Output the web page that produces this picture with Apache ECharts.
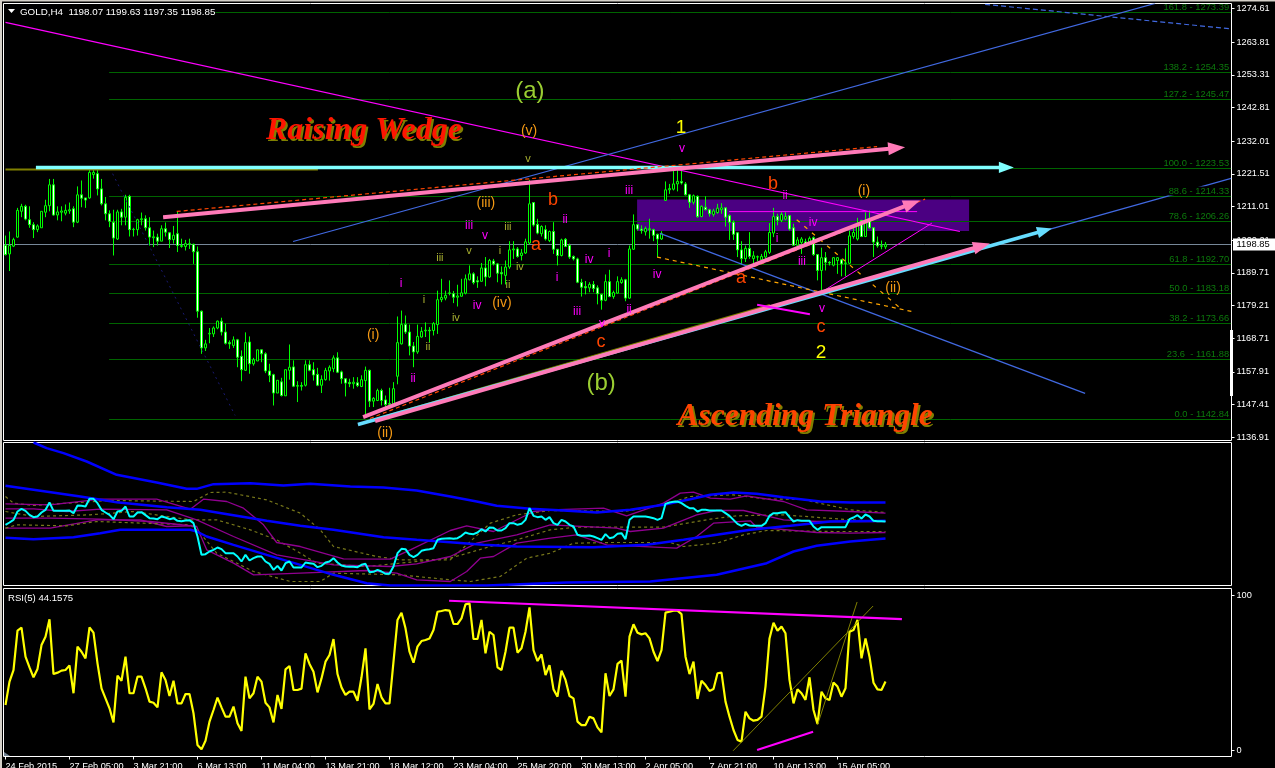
<!DOCTYPE html>
<html><head><meta charset="utf-8">
<style>html,body{margin:0;padding:0;background:#000;overflow:hidden}#c{width:1275px;height:768px}</style>
<script src="https://cdn.jsdelivr.net/npm/echarts@6/dist/echarts.min.js"></script>
</head><body><div id="c"></div>
<script>
// [open, close, low, high]
const candles = [
[1198.5,1195.6,1195.3,1201.7],[1195.8,1198.5,1190.3,1203.0],[1198.3,1200.4,1198.0,1201.0],[1201.2,1209.8,1201.0,1210.6],[1209.5,1211.1,1207.6,1211.9],[1211.1,1207.0,1206.6,1211.6],[1206.8,1205.2,1204.2,1211.1],[1205.2,1203.6,1200.9,1206.0],[1203.6,1204.8,1202.8,1205.3],[1204.2,1209.5,1204.2,1209.5],
[1209.2,1211.3,1207.6,1213.2],[1211.3,1218.0,1209.5,1219.9],[1218.0,1208.3,1208.1,1219.9],[1208.3,1209.3,1206.6,1211.1],[1209.2,1209.6,1206.3,1211.1],[1208.9,1209.8,1208.2,1211.7],[1209.6,1210.0,1208.7,1212.3],[1210.3,1206.0,1204.4,1211.1],[1206.0,1214.8,1205.7,1217.5],[1214.8,1213.7,1210.8,1219.4],
[1213.8,1213.1,1210.6,1213.8],[1213.8,1222.0,1213.5,1223.2],[1221.3,1222.0,1220.0,1223.2],[1221.6,1216.7,1214.6,1222.8],[1216.7,1211.9,1211.4,1219.9],[1211.9,1208.7,1206.6,1214.1],[1208.7,1206.3,1204.4,1209.8],[1206.0,1200.9,1195.3,1210.0],[1200.6,1209.3,1200.3,1210.0],[1209.3,1207.6,1205.0,1210.3],
[1207.6,1214.0,1205.0,1214.8],[1214.3,1203.6,1201.4,1214.8],[1203.6,1203.7,1201.4,1204.2],[1203.6,1206.8,1201.7,1207.1],[1206.8,1207.1,1205.0,1209.1],[1207.1,1204.2,1203.3,1208.2],[1204.2,1201.2,1198.5,1207.6],[1201.0,1201.3,1198.0,1203.3],[1201.2,1199.9,1198.5,1202.3],[1199.9,1203.9,1199.9,1205.0],
[1203.9,1202.8,1201.4,1205.9],[1202.6,1200.4,1197.7,1202.8],[1200.4,1201.8,1199.1,1204.8],[1202.3,1198.5,1196.4,1209.4],[1198.2,1198.5,1197.8,1200.7],[1198.2,1199.1,1196.9,1200.3],[1198.9,1199.1,1197.4,1200.7],[1198.9,1196.5,1192.6,1199.1],[1196.5,1177.4,1175.3,1198.2],[1177.4,1165.6,1163.7,1177.6],
[1165.6,1166.9,1164.6,1168.2],[1170.1,1170.3,1167.1,1172.0],[1170.1,1172.0,1169.1,1172.5],[1172.0,1174.2,1171.6,1174.4],[1174.2,1170.7,1169.6,1175.3],[1170.7,1167.1,1166.7,1173.4],[1167.3,1166.9,1165.3,1168.0],[1166.4,1168.2,1165.6,1169.3],[1168.2,1162.6,1159.4,1168.5],[1162.9,1158.6,1154.9,1164.8],
[1158.4,1167.3,1158.2,1170.6],[1167.5,1160.5,1157.3,1169.3],[1160.5,1161.8,1159.9,1162.4],[1161.4,1165.0,1161.4,1165.0],[1165.0,1163.7,1161.0,1165.0],[1163.7,1158.2,1157.5,1164.2],[1158.2,1156.8,1154.6,1160.5],[1157.0,1151.1,1147.1,1157.3],[1151.1,1155.2,1151.1,1155.2],[1154.7,1150.3,1150.0,1156.0],
[1150.2,1158.6,1150.2,1158.6],[1158.4,1159.4,1155.4,1166.7],[1159.5,1153.3,1153.0,1161.6],[1153.3,1153.5,1148.2,1154.9],[1153.5,1153.3,1151.9,1154.6],[1153.6,1160.2,1153.2,1161.6],[1160.2,1158.4,1158.1,1161.6],[1158.6,1156.9,1155.1,1161.0],[1157.1,1153.6,1153.3,1159.2],[1153.6,1155.5,1151.1,1156.8],
[1155.4,1158.4,1155.1,1159.2],[1158.2,1159.4,1155.1,1160.0],[1158.9,1162.4,1157.8,1163.2],[1162.4,1157.8,1157.5,1164.2],[1157.9,1155.7,1154.1,1158.3],[1155.7,1154.3,1150.0,1155.9],[1154.5,1154.1,1153.0,1155.7],[1154.1,1154.6,1152.5,1156.2],[1154.4,1153.5,1153.0,1156.2],[1153.2,1155.4,1153.0,1156.8],
[1155.1,1158.4,1143.9,1159.6],[1158.4,1148.5,1146.6,1158.6],[1148.5,1149.4,1146.6,1149.8],[1148.7,1151.9,1148.5,1152.5],[1151.9,1148.7,1147.1,1152.5],[1148.9,1147.4,1146.6,1150.3],[1147.7,1147.5,1146.0,1152.8],[1147.4,1152.5,1147.1,1154.6],[1156.5,1167.3,1153.9,1175.7],[1166.9,1173.1,1166.7,1177.6],
[1173.1,1170.7,1170.1,1176.0],[1170.7,1166.2,1163.2,1173.1],[1166.2,1164.3,1159.4,1167.5],[1164.3,1169.3,1163.7,1173.1],[1169.1,1170.9,1168.9,1172.3],[1171.1,1171.3,1169.1,1173.8],[1171.3,1171.1,1167.5,1172.3],[1171.2,1173.4,1169.6,1173.9],[1173.1,1181.1,1170.1,1184.0],[1181.1,1181.8,1180.3,1187.8],
[1181.6,1182.5,1180.9,1184.0],[1183.1,1183.3,1182.5,1187.3],[1183.0,1181.9,1180.0,1183.9],[1181.9,1182.3,1178.9,1185.9],[1182.2,1183.3,1182.2,1187.8],[1183.2,1187.8,1182.8,1189.2],[1187.5,1189.4,1187.3,1192.1],[1189.4,1186.6,1186.0,1189.9],[1187.2,1186.8,1184.9,1188.6],[1187.0,1191.3,1186.9,1192.9],
[1191.3,1188.4,1185.4,1194.8],[1188.4,1193.7,1188.1,1194.2],[1193.5,1192.6,1192.1,1194.2],[1192.6,1189.6,1186.7,1192.9],[1189.8,1189.4,1186.0,1191.8],[1188.9,1191.6,1186.0,1193.7],[1191.6,1197.1,1191.0,1199.9],[1197.1,1197.4,1194.2,1199.9],[1197.4,1195.0,1194.6,1198.0],[1195.3,1196.1,1193.7,1197.4],
[1196.1,1199.7,1195.8,1200.7],[1199.3,1211.9,1198.8,1219.6],[1212.3,1205.1,1204.6,1212.4],[1205.3,1202.5,1202.1,1207.1],[1202.3,1204.6,1201.4,1205.0],[1203.6,1200.6,1200.1,1205.0],[1200.1,1203.0,1199.6,1203.3],[1203.0,1197.3,1195.8,1206.0],[1197.3,1195.3,1192.1,1197.4],[1195.3,1200.3,1195.0,1200.7],
[1200.5,1198.2,1198.0,1200.9],[1198.5,1194.8,1194.2,1199.1],[1195.0,1194.2,1193.7,1195.3],[1194.2,1186.7,1186.4,1194.6],[1186.6,1185.1,1182.1,1187.8],[1185.3,1184.9,1182.8,1187.1],[1184.9,1186.0,1183.5,1186.7],[1186.0,1184.7,1183.5,1187.1],[1184.9,1183.0,1179.6,1185.7],[1182.8,1180.9,1177.9,1183.0],
[1180.9,1186.9,1180.6,1189.2],[1186.9,1182.1,1181.9,1190.7],[1182.1,1183.4,1181.4,1184.0],[1183.2,1186.9,1183.0,1188.6],[1186.6,1187.5,1186.2,1188.3],[1187.5,1181.6,1180.6,1187.8],[1181.6,1197.4,1181.4,1198.5],[1197.3,1205.2,1197.1,1208.5],[1205.2,1203.8,1203.3,1205.3],[1203.8,1203.3,1202.3,1205.0],
[1202.9,1204.0,1201.7,1204.6],[1203.6,1203.9,1200.7,1207.1],[1203.6,1201.8,1199.9,1203.9],[1202.1,1200.6,1194.8,1202.3],[1200.6,1202.3,1200.3,1203.1],[1213.0,1216.4,1212.8,1219.1],[1216.4,1216.8,1215.1,1218.3],[1216.6,1218.3,1216.2,1222.6],[1218.3,1219.1,1215.9,1222.8],[1219.1,1218.6,1218.1,1222.8],
[1218.3,1214.8,1214.6,1218.9],[1214.8,1212.4,1210.6,1215.1],[1212.4,1214.5,1211.7,1214.9],[1214.3,1207.8,1207.4,1214.6],[1207.8,1211.1,1207.6,1211.4],[1210.8,1210.0,1209.8,1214.3],[1210.0,1208.7,1207.8,1210.3],[1208.5,1209.6,1207.8,1210.3],[1209.1,1210.5,1208.7,1211.9],[1210.0,1210.6,1208.7,1212.1],
[1210.6,1207.6,1204.6,1210.8],[1208.1,1206.0,1200.3,1208.5],[1206.0,1202.1,1200.3,1206.6],[1202.6,1197.1,1194.8,1202.8],[1197.1,1194.3,1192.4,1199.9],[1194.3,1197.6,1193.2,1198.5],[1197.6,1195.0,1194.2,1202.8],[1194.3,1195.2,1192.6,1196.7],[1194.8,1194.9,1193.5,1195.3],[1193.9,1195.0,1193.2,1195.8],
[1194.8,1196.5,1194.2,1197.1],[1196.3,1202.7,1195.8,1205.7],[1202.5,1207.8,1201.2,1210.6],[1207.8,1206.6,1205.0,1208.7],[1206.6,1208.5,1206.0,1209.2],[1207.0,1207.8,1206.6,1209.2],[1208.1,1203.8,1203.3,1208.2],[1204.2,1198.6,1198.5,1205.5],[1198.6,1200.3,1198.4,1201.2],[1199.5,1200.6,1195.8,1201.2],
[1199.7,1198.8,1198.5,1200.7],[1199.5,1200.8,1199.1,1201.4],[1201.0,1195.6,1195.2,1201.4],[1195.6,1190.5,1187.3,1195.8],[1190.5,1194.6,1184.1,1197.8],[1194.6,1193.1,1190.5,1196.4],[1193.1,1192.9,1192.1,1193.5],[1192.2,1194.6,1191.8,1194.8],[1193.7,1194.6,1189.4,1194.8],[1193.9,1192.6,1188.6,1194.2],
[1192.9,1192.8,1188.6,1197.6],[1192.8,1201.6,1192.6,1203.3],[1201.4,1202.7,1200.7,1204.4],[1200.6,1205.5,1200.1,1207.4],[1206.6,1201.4,1201.2,1206.6],[1201.4,1205.9,1201.2,1209.2],[1206.8,1204.2,1203.9,1209.8],[1204.2,1199.6,1194.8,1204.4],[1199.6,1198.4,1197.8,1201.4],[1198.4,1198.3,1197.3,1200.1],
[1198.07,1198.85,1197.35,1199.63]];

const rsiValues = [
29.0,44.1,51.6,77.0,78.9,60.2,53.3,46.9,52.3,67.7,73.1,84.3,49.0,49.9,51.2,51.6,54.6,36.6,66.7,63.4,59.1,79.1,75.7,55.9,39.8,33.3,26.9,17.8,48.0,44.7,60.2,36.6,36.6,47.3,47.3,39.8,31.2,30.5,27.5,50.1,45.2,34.8,44.7,30.1,30.1,36.1,36.1,23.7,3.2,0.4,6.0,18.3,25.8,33.8,27.5,21.5,21.5,28.0,17.2,12.3,47.3,33.3,36.6,47.3,44.1,30.5,27.5,17.8,35.5,26.5,52.0,54.2,38.7,38.7,39.6,62.4,55.5,50.5,37.2,46.2,57.0,61.3,71.6,49.0,40.4,35.5,37.6,37.6,31.8,46.9,65.6,26.2,29.7,42.6,34.0,30.1,30.1,57.0,83.9,88.6,78.5,63.4,56.3,66.7,70.3,71.0,72.0,77.4,89.2,89.7,90.3,89.9,
81.3,81.3,84.9,94.0,94.6,71.6,71.6,83.9,62.4,76.3,74.2,53.3,51.6,63.4,78.9,78.9,62.8,65.6,76.3,92.0,64.5,57.4,61.7,48.4,54.8,39.1,34.4,51.2,45.2,34.8,33.3,18.3,16.1,16.1,21.5,20.4,14.6,11.4,49.5,34.8,39.1,55.5,57.6,34.4,73.1,81.1,75.7,74.6,75.3,72.0,63.4,57.4,64.5,88.6,89.2,89.9,89.9,87.7,60.2,49.0,57.0,32.9,44.7,41.9,38.1,39.3,49.5,49.9,31.2,21.5,12.9,6.5,5.4,24.7,20.4,18.9,19.4,21.5,40.9,72.0,82.1,77.0,79.6,75.3,45.2,30.1,39.1,36.6,32.3,46.9,25.8,16.8,37.6,33.3,32.3,43.6,40.9,34.4,39.8,76.3,77.4,83.9,59.1,72.0,60.2,43.4,39.1,38.7,44.1575];

// middle pane (unlabelled indicator, arbitrary units)
const oscValues = [
182,189,197,222,230,224,212,205,207,219,227,249,224,224,224,224,225,217,240,239,237,260,260,247,227,219,212,199,222,224,237,207,207,219,220,211,202,201,199,207,204,199,202,194,193,195,196,187,147,92,94,102,107,114,109,97,97,97,87,72,92,75,82,87,87,72,65,47,59,45,67,72,54,54,54,69,67,65,55,59,69,72,82,69,60,57,56,56,55,62,65,40,41,47,42,35,35,57,97,110,109,92,85,92,104,107,109,112,137,140,141,142,
140,142,149,159,155,154,159,169,162,174,173,165,165,172,187,187,182,185,197,232,209,205,207,197,205,187,182,197,192,182,177,152,149,149,150,147,142,137,154,142,145,155,157,139,197,207,207,207,207,205,202,197,202,245,249,251,252,247,239,232,232,222,227,227,225,225,225,225,217,209,197,185,179,185,180,179,179,179,187,209,217,217,219,220,205,192,196,194,194,194,177,167,175,175,175,175,175,175,175,199,204,211,201,213,207,194,193,193,192];
const bandUpper = [[7,429],[10.3,412],[14.5,397],[20.3,372],[27.8,332],[37.8,309],[45.3,290],[47.8,290],[52,304],[61.2,307],[69.5,300],[76.2,305],[86.2,297],[94.5,294],[102.8,285],[111.2,267],[117.8,252],[122.8,239],[131.2,230],[139.5,225],[147.8,219],[156.2,227],[164.5,242],[171.2,259],[176.2,272],[182,279],[187.8,275],[194.5,265],[203.7,252],[211.2,249],[220,249]];
const bandMiddle = [[0,299],[7,287],[18.7,267],[27.8,250],[40.3,235],[48.7,227],[57,211],[65.3,194],[73.7,179],[82,167],[94.5,145],[102.8,137],[111.2,130],[119.5,122],[127.8,117],[147,115],[160.3,122],[169.5,137],[177.8,152],[186.2,167],[196.2,179],[206.2,192],[220,194]];
const bandLower = [[0,143],[7,139],[17,145],[23.7,157],[28.7,167],[46.2,167],[47.8,162],[50.3,147],[57,122],[65.3,92],[73.7,62],[82,32],[90.3,7],[96.2,0],[120.3,0],[140.3,9],[161.2,12],[177.8,32],[190.3,67],[197,102],[202.8,119],[211.2,132],[220,141]];
const purpleA = [[0,245],[11.2,242],[23.7,259],[37.8,259],[46.2,229],[49.5,259],[55.3,252],[59.5,232],[64.5,182],[67.8,129],[73.7,117],[84.5,80],[96.2,79],[101.2,107],[111.2,165],[115.3,179],[122,162],[132,222],[136.2,227],[149.5,232],[155.3,209],[164.5,247],[168.7,277],[172,280],[176.2,262],[181.2,259],[185.3,269],[194.5,252],[200.3,227],[211.2,222],[220,217]];
const purpleB = [[0,230],[7,230],[15.3,222],[23.7,229],[40.3,227],[47.8,197],[57,147],[67.8,92],[82,62],[96.2,57],[102.8,65],[111.2,87],[117.8,127],[127.8,152],[136.2,182],[152.8,172],[156.2,162],[164.5,172],[172.8,212],[177.8,225],[184.5,225],[194.5,197],[202.8,192],[220,192]];
const purpleC = [[0,202],[11.2,202],[23.7,199],[36.2,192],[47.8,177],[50.3,107],[57,67],[62,32],[73.7,37],[90.3,45],[97.8,37],[102.8,17],[111.2,12],[115.3,42],[118.7,82],[122,87],[127.8,127],[136.2,142],[142.8,152],[150.3,122],[167.8,112],[172.8,147],[177,187],[186.2,194],[187.8,175],[202.8,159],[211.2,157],[220,159]];
const purpleD = [[0,172],[11.2,172],[22.8,197],[33.7,197],[40.3,177],[46.2,179]];
const oliveA = [[0,267],[2,247],[7,240],[15.3,247],[26.2,255],[47,252],[51.2,279],[55.3,280],[65.3,257],[73.7,217],[78.7,167],[82,117],[92.8,87],[98.7,77],[111.2,77],[121.2,187],[127.8,212],[136.2,225],[154.5,222],[164.5,242],[171.2,267],[182,272],[190.3,259],[198.7,259],[211.2,227],[220,219]];
const oliveB = [[0,222],[7,207],[21.2,212],[32,222],[46.2,197],[52.8,197],[61.2,167],[67.8,137],[73.7,97],[77.8,67],[90.3,57],[111.2,82],[121.2,117],[127.8,137],[136.2,167],[142.8,175],[164.5,175],[176.2,199],[182.8,209],[194.5,212],[211.2,197],[220,192]];
const oliveC = [[0,172],[2.8,182],[15.3,179],[22.8,192],[46.2,182],[48.7,157],[52.8,97],[62,42],[71.2,12],[78.7,12],[82,37],[98.7,32],[111.2,17],[116.2,12],[123.7,27],[130.3,82],[136.2,97],[142,127],[151.2,129],[166.2,129],[169.5,117],[177.8,127],[184.5,152],[190.3,165],[207,162],[220,162]];

const priceTicks = [1274.61,1263.81,1253.31,1242.81,1232.01,1221.51,1211.01,1200.21,1189.71,1179.21,1168.71,1157.91,1147.41,1136.91];
const rsiTicks = [0,100];
const timeTickBars = [0,16,32,48,64,80,96,112,128,144,160,176,192,208];
const timeTickLabels = ['24 Feb 2015','27 Feb 05:00','3 Mar 21:00','6 Mar 13:00','11 Mar 04:00','13 Mar 21:00','18 Mar 12:00','23 Mar 04:00','25 Mar 20:00','30 Mar 13:00','2 Apr 05:00','7 Apr 21:00','10 Apr 13:00','15 Apr 05:00'];
const lastPrice = 1198.85;

const fibLevels = [1273.39,1254.35,1245.47,1223.53,1214.33,1206.26,1192.70,1183.18,1173.66,1161.88,1142.84];
const fibLabels = ['161.8 - 1273.39','138.2 - 1254.35','127.2 - 1245.47','100.0 - 1223.53','88.6 - 1214.33','78.6 - 1206.26','61.8 - 1192.70','50.0 - 1183.18','38.2 - 1173.66','23.6  - 1161.88','0.0 - 1142.84'];

// trend lines: [bar1, value1, bar2, value2]
const magentaResist = [0,1270.2,238.6,1203.0];
const blueUp = [71.9,1199.8,287.4,1276.3];
const blueDown = [163.6,1202.4,269.9,1151.0];
const blueUpRight = [244.9,1197.9,306.4,1220.1];
const blueDashTop = [244.9,1276.0,306.4,1268.1];
const navyDotted = [26.1,1223.3,57.4,1143.9];
const cyanFlat = [7.6,1223.6,252.1,1223.6];
const oliveFlat = [0,1222.95,78.1,1222.95];
const wedgeTop = [39.4,1207.6,224.9,1230.1];
const wedgeTopDash = [42.8,1209.45,217.9,1230.3];
const wedgeLow = [89.4,1143.35,228.6,1213.0];
const wedgeLowDash = [91.1,1142.9,229.9,1213.4];
const triangleLow = [92.4,1142.07,246.1,1199.17];
const triangleCyan = [88.1,1141.0,261.6,1204.0];
const triangleOlive = [92.9,1142.9,191.1,1179.4];
const divergeMain = [187.9,1179.5,201.1,1176.4];
const magentaFlat = [180.9,1209.4,227.9,1209.4];
const magentaDiag = [203.6,1183.2,231.6,1205.7];
const orangeLong = [162.9,1194.8,226.6,1177.3];
const orangeShort = [197.8,1206.8,224.4,1177.6];
const zoneRect = [157.9,1213.3,240.9,1203.2];
const rsiTop = [110.9,96.3,224.1,84.5];
const rsiDiverge = [187.9,0,201.9,11.8];
const rsiOliveA = [181.9,-0.5,216.9,92.9];
const rsiOliveB = [203,16.1,212.9,95.5];

// wave labels: [bar, price, text]
const magentaWaves = [[98.9,1186.3,'i'],[101.9,1155.8,'ii'],[115.9,1205.0,'iii'],[117.9,1179.2,'iv'],[119.9,1201.7,'v'],[137.9,1188.2,'i'],[139.9,1206.9,'ii'],[142.9,1177.3,'iii'],[145.9,1194.0,'iv'],[150.9,1196.0,'i'],[155.9,1178.0,'ii'],[149.1,1173.5,'v'],[155.9,1216.2,'iii'],[162.9,1189.2,'iv'],[169.1,1229.7,'v'],[194.9,1214.6,'ii'],[201.9,1205.9,'iv'],[192.9,1200.8,'i'],[199.1,1193.4,'iii'],[204.1,1178.3,'v']];
const oliveWaves = [[104.6,1180.9,'i'],[105.6,1165.8,'ii'],[108.6,1194.4,'iii'],[112.6,1175.1,'iv'],[115.9,1196.6,'v'],[123.6,1196.6,'i'],[125.6,1185.7,'ii'],[125.6,1204.6,'iii'],[128.6,1191.5,'iv'],[130.6,1226.2,'v']];
const orangeWaves = [[130.9,1235.2,'(v)'],[120.1,1212.0,'(iii)'],[91.9,1169.6,'(i)'],[94.9,1138.1,'(ii)'],[124.1,1179.9,'(iv)'],[214.6,1215.9,'(i)'],[221.9,1184.7,'(ii)']];
const redWaves = [[132.6,1198.5,'a'],[183.9,1187.9,'a'],[136.9,1213.0,'b'],[191.9,1218.4,'b'],[148.9,1167.4,'c'],[203.9,1172.2,'c']];
const yellowWaves = [[168.9,1236.4,'1'],[203.9,1164.2,'2']];
const greenWaves = [[131.1,1248.0,'(a)'],[148.9,1154.2,'(b)']];
const patternA = [[89.6,1235.5,'Raising Wedge']];
const patternB = [[199.9,1143.6,'Ascending Triangle']];

const BARS = 307;
const barNames = [];
for (let i = 0; i < BARS; i++) barNames.push(String(i));
const FONT = '"Liberation Sans", Arial, sans-serif';
const indexed = arr => arr.map((v, i) => [i, v]);

function trend(seg, color, width, opts) {
  opts = opts || {};
  const ax = opts.pane === 2 ? 3 : 1, ay = opts.pane === 2 ? 2 : 0;
  return {
    type: 'custom', xAxisIndex: ax, yAxisIndex: ay, clip: true, silent: true, z: opts.z || 5,
    encode: { x: [0, 2], y: [1, 3] }, data: [seg],
    renderItem(p, api) {
      const a = api.coord([api.value(0), api.value(1)]);
      const b = api.coord([api.value(2), api.value(3)]);
      const kids = [];
      let end = b;
      if (opts.arrow) {
        const dx = b[0] - a[0], dy = b[1] - a[1], L = Math.hypot(dx, dy), ux = dx / L, uy = dy / L;
        const h = opts.arrow, w = h * 0.38;
        const bx = b[0] - ux * h, by = b[1] - uy * h;
        end = [bx + ux, by + uy];
        kids.push({ type: 'polygon', shape: { points: [b, [bx - uy * w, by + ux * w], [bx + uy * w, by - ux * w]] }, style: { fill: color } });
      }
      kids.unshift({ type: 'line', shape: { x1: a[0], y1: a[1], x2: end[0], y2: end[1] },
        style: { stroke: color, lineWidth: width, lineDash: opts.dash || null, fill: null } });
      return { type: 'group', children: kids };
    }
  };
}
function waveText(rows, color, size, opts) {
  opts = opts || {};
  return {
    type: 'custom', xAxisIndex: 1, yAxisIndex: 0, silent: true, z: 7,
    encode: { x: 0, y: 1 }, data: rows.map(r => [r[0], r[1]]),
    renderItem(p, api) {
      const c = api.coord([api.value(0), api.value(1)]);
      const base = { text: rows[p.dataIndex][2], fontSize: size, fontFamily: opts.family || FONT, fontStyle: opts.italic ? 'italic' : 'normal', fontWeight: opts.weight || 'normal', align: 'center', verticalAlign: 'middle' };
      const kids = [];
      if (opts.shadow) kids.push({ type: 'text', x: c[0] + 2, y: c[1] + 2, style: Object.assign({}, base, { fill: opts.shadow }) });
      kids.push({ type: 'text', x: c[0], y: c[1], style: Object.assign({}, base, { fill: color }) });
      return { type: 'group', children: kids };
    }
  };
}
function bandLine(data, color, width, xi, yi, dash, z) {
  return { type: 'line', xAxisIndex: xi, yAxisIndex: yi, data, showSymbol: false, symbol: 'none', silent: true, z: z || 3, clip: true,
    lineStyle: { color, width, type: dash ? [3, 3] : 'solid' } };
}
const hiddenX = (grid) => ({ type: 'value', gridIndex: grid, min: -0.5, max: BARS - 0.5, show: false, splitLine: { show: false } });

const option = {
  animation: false, backgroundColor: '#000',
  title: { text: 'GOLD,H4  1198.07 1199.63 1197.35 1198.85', left: 20, top: 7, padding: 0, backgroundColor: '#000',
    textStyle: { color: '#fff', fontSize: 9.8, fontWeight: 'normal', fontFamily: FONT, lineHeight: 11 } },
  grid: [
    { left: 3.5, width: 1228, top: 3.5, height: 437, show: true, borderColor: '#fff', borderWidth: 1, backgroundColor: '#000', outerBoundsMode: 'none' },
    { left: 3.5, width: 1228, top: 442.5, height: 143, show: true, borderColor: '#fff', borderWidth: 1, backgroundColor: '#000', outerBoundsMode: 'none' },
    { left: 3.5, width: 1228, top: 588.5, height: 168, show: true, borderColor: '#fff', borderWidth: 1, backgroundColor: '#000', outerBoundsMode: 'none' }
  ],
  xAxis: [
    { type: 'category', gridIndex: 0, data: barNames, show: false },
    hiddenX(0),
    hiddenX(1),
    { type: 'value', gridIndex: 2, position: 'bottom', min: -0.5, max: BARS - 0.5, splitLine: { show: false }, axisLine: { show: false, onZero: false },
      axisTick: { show: true, length: 3, lineStyle: { color: '#fff' }, customValues: timeTickBars },
      axisLabel: { color: '#fff', fontSize: 9.2, fontFamily: FONT, align: 'left', margin: 5, customValues: timeTickBars,
        formatter: v => timeTickLabels[timeTickBars.indexOf(v)] || '' } }
  ],
  yAxis: [
    { type: 'value', gridIndex: 0, position: 'right', min: 1135.85, max: 1276.27, splitLine: { show: false }, axisLine: { show: false, onZero: false },
      axisTick: { show: true, length: 3, lineStyle: { color: '#fff' }, customValues: priceTicks },
      axisLabel: { color: '#fff', fontSize: 9.2, fontFamily: FONT, margin: 5, customValues: priceTicks, formatter: v => v.toFixed(2) } },
    { type: 'value', gridIndex: 1, position: 'right', min: 0, max: 429, show: false, splitLine: { show: false } },
    { type: 'value', gridIndex: 2, position: 'right', min: -4.2, max: 104.2, splitLine: { show: false }, axisLine: { show: false, onZero: false },
      axisTick: { show: true, length: 3, lineStyle: { color: '#fff' }, customValues: rsiTicks },
      axisLabel: { color: '#fff', fontSize: 9.2, fontFamily: FONT, margin: 5, customValues: rsiTicks, formatter: v => String(v) } }
  ],
  series: [
    // supply zone
    { type: 'custom', xAxisIndex: 1, yAxisIndex: 0, silent: true, z: 1, encode: { x: [0, 2], y: [1, 3] }, data: [zoneRect],
      renderItem(p, api) {
        const a = api.coord([api.value(0), api.value(1)]), b = api.coord([api.value(2), api.value(3)]);
        return { type: 'rect', shape: { x: a[0], y: a[1], width: b[0] - a[0], height: b[1] - a[1] }, style: { fill: '#4b0082' } };
      } },
    // fibonacci levels
    { type: 'custom', xAxisIndex: 1, yAxisIndex: 0, silent: true, z: 2, encode: { y: 0 }, data: fibLevels.map(v => [v]),
      renderItem(p, api) {
        const v = api.value(0), y = Math.round(api.coord([0, v])[1]) + 0.5;
        const x0 = api.coord([25.9, v])[0], x1 = api.coord([306.4, v])[0];
        return { type: 'line', shape: { x1: x0, y1: y, x2: x1, y2: y }, style: { stroke: '#006400', lineWidth: 1 } };
      } },
    // current price
    { type: 'custom', xAxisIndex: 1, yAxisIndex: 0, silent: true, z: 2, encode: { y: 0 }, data: [[lastPrice]],
      renderItem(p, api) {
        const c = api.coord([0, api.value(0)]), y = Math.round(c[1]) + 0.5;
        return { type: 'line', shape: { x1: 4, y1: y, x2: 1231, y2: y }, style: { stroke: '#778899', lineWidth: 1 } };
      } },
    { type: 'candlestick', xAxisIndex: 0, yAxisIndex: 0, data: candles, barWidth: 3, z: 3, silent: true,
      itemStyle: { color: '#000', color0: '#fff', borderColor: '#00ff00', borderColor0: '#00ff00', borderColorDoji: '#00ff00', borderWidth: 1 } },

    trend(navyDotted, '#191970', 1, { dash: [2, 4] }),
    trend(magentaResist, '#ff00ff', 1.2),
    trend(blueUp, '#4169e1', 1.2),
    trend(blueDown, '#4169e1', 1.2),
    trend(blueUpRight, '#4169e1', 1.2),
    trend(blueDashTop, '#4169e1', 1.2, { dash: [5, 3] }),
    trend(magentaFlat, '#ff00ff', 1),
    trend(magentaDiag, '#ff00ff', 1),
    trend(orangeLong, '#ffa500', 1.2, { dash: [4, 4] }),
    trend(orangeShort, '#ffa500', 1.2, { dash: [4, 6] }),
    trend(oliveFlat, '#808000', 2),
    trend(cyanFlat, '#7fffff', 3.5, { arrow: 15 }),
    trend(wedgeTopDash, '#ff4500', 1.2, { dash: [4, 3] }),
    trend(wedgeTop, '#ff7ab8', 4, { arrow: 17 }),
    trend(wedgeLowDash, '#ff4500', 1.2, { dash: [4, 3] }),
    trend(wedgeLow, '#ff7ab8', 4, { arrow: 17 }),
    trend(triangleOlive, '#808000', 2),
    trend(triangleCyan, '#66ddff', 3.5, { arrow: 15 }),
    trend(triangleLow, '#ff7ab8', 4, { arrow: 17 }),
    trend(divergeMain, '#ff00ff', 2),

    waveText(magentaWaves, '#ff00ff', 12),
    waveText(oliveWaves, '#a8b030', 11),
    waveText(orangeWaves, '#f59a14', 14),
    waveText(redWaves, '#ff4500', 18),
    waveText(yellowWaves, '#ffff00', 19),
    waveText(greenWaves, '#9acd32', 24),
    waveText(patternA, '#ff1500', 32, { family: '"Liberation Serif", serif', italic: true, weight: 'bold', shadow: '#808000' }),
    waveText(patternB, '#ff4500', 31.5, { family: '"Liberation Serif", serif', italic: true, weight: 'bold', shadow: '#808000' }),

    // fibonacci captions on top of the lines
    { type: 'custom', xAxisIndex: 1, yAxisIndex: 0, silent: true, z: 8, encode: { y: 0 }, data: fibLevels.map(v => [v]),
      renderItem(p, api) {
        const v = api.value(0), c = api.coord([306.4, v]);
        return { type: 'text', x: c[0] - 2, y: Math.round(c[1]) - 5, style: { text: fibLabels[p.dataIndex], fill: '#0c7a0c', fontSize: 9.4, fontFamily: FONT, align: 'right', verticalAlign: 'middle', backgroundColor: p.dataIndex === 4 ? '#000' : 'transparent' } };
      } },
    // last-price flag
    { type: 'custom', xAxisIndex: 1, yAxisIndex: 0, silent: true, z: 9, encode: { y: 0 }, data: [[lastPrice]],
      renderItem(p, api) {
        const c = api.coord([BARS - 0.5, api.value(0)]);
        return { type: 'group', children: [
          { type: 'rect', shape: { x: c[0] + 1.5, y: Math.round(c[1]) - 5.5, width: 42, height: 12 }, style: { fill: '#fff' } },
          { type: 'text', x: c[0] + 5, y: Math.round(c[1]) + 0.5, style: { text: lastPrice.toFixed(2), fill: '#000', fontSize: 9.4, fontFamily: FONT, verticalAlign: 'middle' } }
        ] };
      } },

    // indicator pane
    bandLine(purpleD, '#900090', 1.3, 2, 1),
    bandLine(oliveA, '#77771a', 1.2, 2, 1, true),
    bandLine(oliveB, '#77771a', 1.2, 2, 1, true),
    bandLine(oliveC, '#77771a', 1.2, 2, 1, true),
    bandLine(purpleA, '#900090', 1.3, 2, 1),
    bandLine(purpleB, '#900090', 1.3, 2, 1),
    bandLine(purpleC, '#900090', 1.3, 2, 1),
    bandLine(bandUpper, '#0000ff', 2.5, 2, 1),
    bandLine(bandMiddle, '#0000ff', 2.5, 2, 1),
    bandLine(bandLower, '#0000ff', 2.5, 2, 1),
    bandLine(indexed(oscValues), '#00ffff', 2, 2, 1, false, 4),

    // RSI pane
    bandLine(indexed(rsiValues), '#ffff00', 2.2, 3, 2, false, 3),
    trend(rsiOliveA, '#808000', 1, { pane: 2 }),
    trend(rsiOliveB, '#808000', 1, { pane: 2 }),
    trend(rsiTop, '#ff00ff', 2.2, { pane: 2 }),
    trend(rsiDiverge, '#ff00ff', 2.2, { pane: 2 })
  ],
  graphic: [
    { type: 'rect', z: 50, shape: { x: 0, y: 0, width: 2, height: 768 }, style: { fill: '#d4d0c8' } },
    { type: 'rect', z: 50, shape: { x: 0, y: 0, width: 1275, height: 1.5 }, style: { fill: '#d4d0c8' } },
    { type: 'polygon', z: 50, shape: { points: [[8, 9], [15, 9], [11.5, 13]] }, style: { fill: '#fff' } },
    { type: 'rect', z: 50, shape: { x: 1230, y: 330, width: 3, height: 66 }, style: { fill: '#fff' } },
    { type: 'polygon', z: 50, shape: { points: [[4, 752], [10, 756], [4, 756]] }, style: { fill: '#708090' } },
    { type: 'text', z: 50, x: 8, y: 593, style: { text: 'RSI(5) 44.1575', fill: '#fff', fontSize: 9.6, fontFamily: FONT } }
  ]
};
const chart = echarts.init(document.getElementById('c'), null, { renderer: 'canvas', width: 1275, height: 768 });
chart.setOption(option);
</script></body></html>
